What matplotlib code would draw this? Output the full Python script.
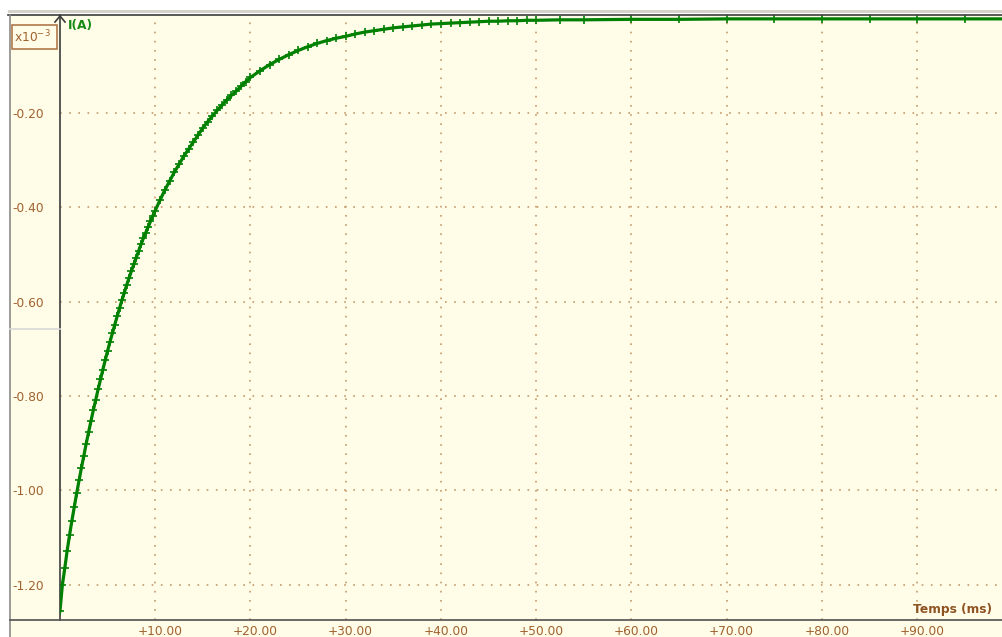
import matplotlib
matplotlib.use("Agg")
import matplotlib.pyplot as plt
from matplotlib.patches import Rectangle
from matplotlib.lines import Line2D
from matplotlib.ticker import FuncFormatter
from matplotlib.transforms import ScaledTranslation

# values (I in 1e-3 A, t in ms)
t_ms = [0.0, 0.25, 0.5, 0.75, 1.0, 1.25, 1.5, 1.75, 2.0, 2.25, 2.5, 2.75,
        3.0, 3.25, 3.5, 3.75, 4.0, 4.25, 4.5, 4.75, 5.0, 5.25, 5.5, 5.75,
        6.0, 6.25, 6.5, 6.75, 7.0, 7.25, 7.5, 7.75, 8.0, 8.25, 8.5, 8.75,
        9.0, 9.25, 9.5, 9.75,
        10.0, 10.5, 11.0, 11.5, 12.0, 12.5, 13.0, 13.5, 14.0, 14.5,
        15.0, 15.5, 16.0, 16.5, 17.0, 17.5, 18.0, 18.5, 19.0, 19.5,
        20, 21, 22, 23, 24, 25, 26, 27, 28, 29,
        30, 31, 32, 33, 34, 35, 36, 37, 38, 39,
        40, 41, 42, 43, 44, 45, 46, 47, 48, 49, 50,
        52.5, 55, 60, 65, 70, 75, 80, 85, 90, 95, 99]
i_mA = [-1.255, -1.200, -1.165, -1.128, -1.095, -1.064, -1.035, -1.006, -0.979, -0.952, -0.927, -0.901,
        -0.877, -0.853, -0.830, -0.808, -0.786, -0.765, -0.744, -0.724, -0.704, -0.685, -0.667, -0.649,
        -0.631, -0.614, -0.597, -0.581, -0.565, -0.550, -0.535, -0.521, -0.507, -0.493, -0.479, -0.466,
        -0.454, -0.442, -0.430, -0.418,
        -0.407, -0.385, -0.364, -0.345, -0.326, -0.309, -0.292, -0.277, -0.262, -0.247,
        -0.232, -0.219, -0.207, -0.195, -0.184, -0.173, -0.163, -0.154, -0.144, -0.134,
        -0.125, -0.111, -0.098, -0.087, -0.077, -0.068, -0.060, -0.053, -0.047, -0.042,
        -0.038, -0.033, -0.029, -0.026, -0.023, -0.020, -0.018, -0.016, -0.014, -0.012,
        -0.011, -0.010, -0.009, -0.008, -0.007, -0.006, -0.006, -0.005, -0.005, -0.004, -0.004,
        -0.003, -0.003, -0.002, -0.002, -0.001, -0.001, -0.001, -0.001, -0.001, -0.001, -0.001]

x_ticks = [10, 20, 30, 40, 50, 60, 70, 80, 90]
y_ticks = [-0.20, -0.40, -0.60, -0.80, -1.00, -1.20]

W, H = 1002, 637
CREAM = "#FFFCE8"
BROWN = "#A0622E"
GRID = "#C49A6A"
GREEN = "#008000"


def fx(x):
    return x / W


def fy(y):
    return 1 - y / H


fig = plt.figure(figsize=(W / 100, H / 100), dpi=100, facecolor="white")

# window frame bits (drawn below the axes)
fig.patches.append(Rectangle((fx(9), 0), fx(W - 9), fy(15), transform=fig.transFigure,
                             facecolor=CREAM, edgecolor="none", zorder=-10))
fig.patches.append(Rectangle((fx(8), fy(13)), fx(W - 8), 3 / H, transform=fig.transFigure,
                             facecolor="#D6D3CA", edgecolor="none", zorder=-10))

ax = fig.add_axes([fx(60), fy(619.5), fx(W - 60), (619.5 - 15) / H])
ax.set_zorder(1)
ax.set_facecolor(CREAM)
ax.plot(t_ms, i_mA, color=GREEN, lw=2.3, marker="+", ms=6, mew=1.2, zorder=3)

ax.set_xlim(0, 98.9)
ax.set_ylim(-1.2735, 0.0072)
ax.set_xticks(x_ticks)
ax.set_yticks(y_ticks)
ax.xaxis.set_major_formatter(FuncFormatter(lambda v, p: "+%.2f" % v))
ax.yaxis.set_major_formatter(FuncFormatter(lambda v, p: "%.2f" % v))
ax.grid(True, color=GRID, linestyle=(0, (1, 4.5)), lw=1.2)

for s in ["top", "right", "bottom"]:
    ax.spines[s].set_visible(False)
ax.spines["left"].set_color("#3C3C3C")
ax.spines["left"].set_linewidth(1.2)

ax.tick_params(axis="y", length=0, pad=34.5, labelsize=8.8, labelcolor=BROWN)
ax.tick_params(axis="x", length=0, pad=4, labelsize=8.8, labelcolor=BROWN)
for lab in ax.get_yticklabels():
    lab.set_ha("left")
# x labels sit a few pixels right of their grid line in the original
shift = ScaledTranslation(5 / 100, 0, fig.dpi_scale_trans)
for lab in ax.get_xticklabels():
    lab.set_transform(lab.get_transform() + shift)

# frame lines on top
for xs, ys, c in [([fx(8), 1], [fy(14.5), fy(14.5)], "#3C3C3C"),
                  ([fx(9.5), fx(9.5)], [fy(14.5), 0], "#8A8A8A"),
                  ([fx(10), 1], [fy(619.5), fy(619.5)], "#505050"),
                  ([fx(10), fx(60)], [fy(328.5), fy(328.5)], "#D8D8D8"),
                  ([fx(55), fx(60), fx(65)], [fy(22), fy(16), fy(22)], "#3C3C3C")]:
    fig.lines.append(Line2D(xs, ys, transform=fig.transFigure, color=c, lw=1.2, zorder=5))

# multiplier box and axis titles
fig.patches.append(Rectangle((fx(12), fy(49)), fx(45), 24 / H, transform=fig.transFigure,
                             facecolor=CREAM, edgecolor="#B0784A", lw=1.2, zorder=5))
fig.text(fx(14), fy(37), r"x10$^{-3}$", color=BROWN, fontsize=8.8, va="center", ha="left",
         zorder=6)
fig.text(fx(68), fy(26), "I(A)", color="#158A15", fontsize=8.8, fontweight="bold",
         va="center", ha="left", zorder=6)
fig.text(fx(992), fy(609), "Temps (ms)", color="#8E5322", fontsize=8.8, fontweight="bold",
         va="center", ha="right", zorder=6)

fig.savefig("out.png", dpi=100, facecolor="white")
